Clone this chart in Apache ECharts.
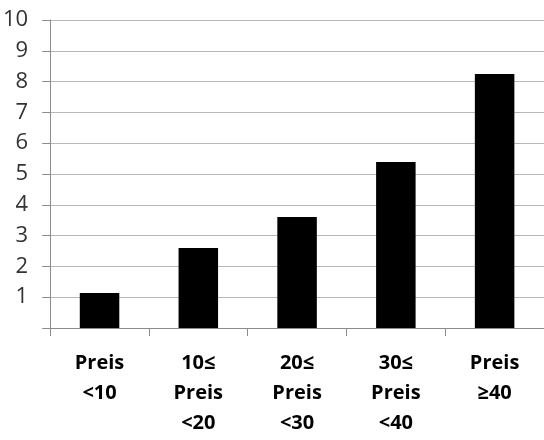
<!DOCTYPE html>
<html>
<head>
<meta charset="utf-8">
<script src="https://cdn.jsdelivr.net/npm/echarts@6/dist/echarts.min.js"></script>
<style>html,body{margin:0;padding:0;background:#fff;}#c{width:544px;height:440px;}</style>
</head>
<body>
<div id="c"></div>
<script>
const categories = ['Preis\n<10', '10≤\nPreis\n<20', '20≤\nPreis\n<30', '30≤\nPreis\n<40', 'Preis\n≥40'];
const values = [1.14, 2.6, 3.6, 5.39, 8.25];
const yTicks = {min: 0, max: 10, interval: 1};

const chart = echarts.init(document.getElementById('c'), null, {renderer: 'canvas'});
chart.setOption({
  animation: false,
  backgroundColor: '#ffffff',
  grid: {left: 46, right: -2, top: 20, bottom: 112, containLabel: false},
  xAxis: {
    type: 'category',
    data: categories,
    axisLine: {show: true, lineStyle: {color: '#8c8c8c', width: 1}},
    axisTick: {show: true, length: 8, lineStyle: {color: '#8c8c8c'}},
    axisLabel: {
      color: '#000', fontSize: 20, fontWeight: 'bold', fontFamily: 'Open Sans',
      lineHeight: 30, margin: 20, interval: 0
    }
  },
  yAxis: {
    type: 'value',
    min: yTicks.min, max: yTicks.max, interval: yTicks.interval,
    axisLine: {show: true, lineStyle: {color: '#8c8c8c', width: 1}},
    axisTick: {show: true, inside: false, length: 8, lineStyle: {color: '#8c8c8c'}},
    splitLine: {show: true, lineStyle: {color: '#b8b8b8', width: 1}},
    axisLabel: {
      color: '#333', fontSize: 22, fontFamily: 'Open Sans', margin: 22,
      formatter: v => v === 0 ? '' : String(v)
    }
  },
  series: [{
    type: 'bar',
    data: values,
    barWidth: '40%',
    itemStyle: {color: '#000000'}
  }]
});
</script>
</body>
</html>
